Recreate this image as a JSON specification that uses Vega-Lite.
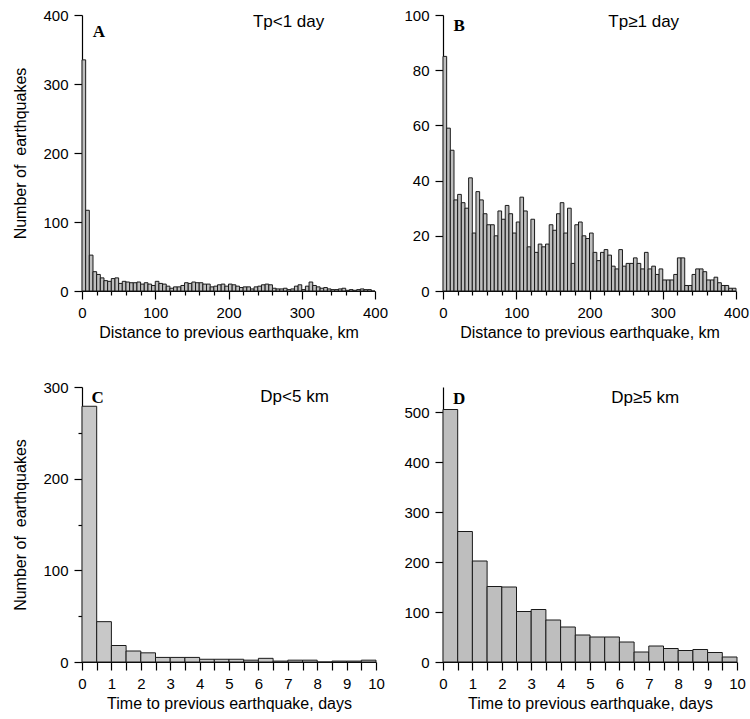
{
  "$schema": "https://vega.github.io/schema/vega-lite/v6.json",
  "background": "white",
  "padding": {"left": 12, "top": 8, "right": 5, "bottom": 5},
  "datasets": {
    "A": [
      {"start":0,"end":5,"count":335},{"start":5,"end":10,"count":117},{"start":10,"end":15,"count":52},{"start":15,"end":20,"count":28},
      {"start":20,"end":25,"count":24},{"start":25,"end":30,"count":19},{"start":30,"end":35,"count":15},{"start":35,"end":40,"count":14},
      {"start":40,"end":45,"count":18},{"start":45,"end":50,"count":19},{"start":50,"end":55,"count":11},{"start":55,"end":60,"count":14},
      {"start":60,"end":65,"count":13},{"start":65,"end":70,"count":12},{"start":70,"end":75,"count":12},{"start":75,"end":80,"count":13},
      {"start":80,"end":85,"count":10},{"start":85,"end":90,"count":12},{"start":90,"end":95,"count":10},{"start":95,"end":100,"count":8},
      {"start":100,"end":105,"count":14},{"start":105,"end":110,"count":11},{"start":110,"end":115,"count":10},{"start":115,"end":120,"count":7},
      {"start":120,"end":125,"count":4},{"start":125,"end":130,"count":6},{"start":130,"end":135,"count":6},{"start":135,"end":140,"count":8},
      {"start":140,"end":145,"count":12},{"start":145,"end":150,"count":11},{"start":150,"end":155,"count":13},{"start":155,"end":160,"count":12},
      {"start":160,"end":165,"count":12},{"start":165,"end":170,"count":10},{"start":170,"end":175,"count":10},{"start":175,"end":180,"count":6},
      {"start":180,"end":185,"count":7},{"start":185,"end":190,"count":9},{"start":190,"end":195,"count":10},{"start":195,"end":200,"count":7},
      {"start":200,"end":205,"count":10},{"start":205,"end":210,"count":9},{"start":210,"end":215,"count":7},{"start":215,"end":220,"count":5},
      {"start":220,"end":225,"count":6},{"start":225,"end":230,"count":6},{"start":230,"end":235,"count":3},{"start":235,"end":240,"count":6},
      {"start":240,"end":245,"count":7},{"start":245,"end":250,"count":9},{"start":250,"end":255,"count":10},{"start":255,"end":260,"count":9},
      {"start":260,"end":265,"count":4},{"start":265,"end":270,"count":3},{"start":270,"end":275,"count":3},{"start":275,"end":280,"count":4},
      {"start":280,"end":285,"count":2},{"start":285,"end":290,"count":3},{"start":290,"end":295,"count":7},{"start":295,"end":300,"count":9},
      {"start":300,"end":305,"count":2},{"start":305,"end":310,"count":7},{"start":310,"end":315,"count":13},{"start":315,"end":320,"count":8},
      {"start":320,"end":325,"count":6},{"start":325,"end":330,"count":4},{"start":330,"end":335,"count":5},{"start":335,"end":340,"count":3},
      {"start":340,"end":345,"count":2},{"start":345,"end":350,"count":2},{"start":350,"end":355,"count":3},{"start":355,"end":360,"count":4},
      {"start":360,"end":365,"count":1},{"start":365,"end":370,"count":2},{"start":370,"end":375,"count":1},{"start":375,"end":380,"count":2},
      {"start":380,"end":385,"count":3},{"start":385,"end":390,"count":2},{"start":390,"end":395,"count":2},{"start":395,"end":400,"count":0}
    ],
    "B": [
      {"start":0,"end":5,"count":85},{"start":5,"end":10,"count":59},{"start":10,"end":15,"count":51},{"start":15,"end":20,"count":33},
      {"start":20,"end":25,"count":35},{"start":25,"end":30,"count":32},{"start":30,"end":35,"count":30},{"start":35,"end":40,"count":41},
      {"start":40,"end":45,"count":21},{"start":45,"end":50,"count":36},{"start":50,"end":55,"count":33},{"start":55,"end":60,"count":28},
      {"start":60,"end":65,"count":24},{"start":65,"end":70,"count":24},{"start":70,"end":75,"count":20},{"start":75,"end":80,"count":29},
      {"start":80,"end":85,"count":26},{"start":85,"end":90,"count":31},{"start":90,"end":95,"count":28},{"start":95,"end":100,"count":21},
      {"start":100,"end":105,"count":25},{"start":105,"end":110,"count":34},{"start":110,"end":115,"count":29},{"start":115,"end":120,"count":16},
      {"start":120,"end":125,"count":26},{"start":125,"end":130,"count":14},{"start":130,"end":135,"count":17},{"start":135,"end":140,"count":16},
      {"start":140,"end":145,"count":17},{"start":145,"end":150,"count":24},{"start":150,"end":155,"count":22},{"start":155,"end":160,"count":28},
      {"start":160,"end":165,"count":32},{"start":165,"end":170,"count":21},{"start":170,"end":175,"count":30},{"start":175,"end":180,"count":10},
      {"start":180,"end":185,"count":24},{"start":185,"end":190,"count":25},{"start":190,"end":195,"count":20},{"start":195,"end":200,"count":19},
      {"start":200,"end":205,"count":21},{"start":205,"end":210,"count":14},{"start":210,"end":215,"count":11},{"start":215,"end":220,"count":14},
      {"start":220,"end":225,"count":15},{"start":225,"end":230,"count":13},{"start":230,"end":235,"count":9},{"start":235,"end":240,"count":8},
      {"start":240,"end":245,"count":15},{"start":245,"end":250,"count":9},{"start":250,"end":255,"count":10},{"start":255,"end":260,"count":10},
      {"start":260,"end":265,"count":12},{"start":265,"end":270,"count":10},{"start":270,"end":275,"count":8},{"start":275,"end":280,"count":14},
      {"start":280,"end":285,"count":8},{"start":285,"end":290,"count":9},{"start":290,"end":295,"count":6},{"start":295,"end":300,"count":8},
      {"start":300,"end":305,"count":4},{"start":305,"end":310,"count":4},{"start":310,"end":315,"count":4},{"start":315,"end":320,"count":6},
      {"start":320,"end":325,"count":12},{"start":325,"end":330,"count":12},{"start":330,"end":335,"count":2},{"start":335,"end":340,"count":2},
      {"start":340,"end":345,"count":6},{"start":345,"end":350,"count":8},{"start":350,"end":355,"count":8},{"start":355,"end":360,"count":7},
      {"start":360,"end":365,"count":4},{"start":365,"end":370,"count":4},{"start":370,"end":375,"count":5},{"start":375,"end":380,"count":3},
      {"start":380,"end":385,"count":2},{"start":385,"end":390,"count":2},{"start":390,"end":395,"count":1},{"start":395,"end":400,"count":1}
    ],
    "C": [
      {"start":0,"end":0.5,"count":279},{"start":0.5,"end":1,"count":44},{"start":1,"end":1.5,"count":18},{"start":1.5,"end":2,"count":12},
      {"start":2,"end":2.5,"count":10},{"start":2.5,"end":3,"count":5},{"start":3,"end":3.5,"count":5},{"start":3.5,"end":4,"count":5},
      {"start":4,"end":4.5,"count":3},{"start":4.5,"end":5,"count":3},{"start":5,"end":5.5,"count":3},{"start":5.5,"end":6,"count":2},
      {"start":6,"end":6.5,"count":4},{"start":6.5,"end":7,"count":1},{"start":7,"end":7.5,"count":2},{"start":7.5,"end":8,"count":2},
      {"start":8,"end":8.5,"count":0},{"start":8.5,"end":9,"count":1},{"start":9,"end":9.5,"count":1},{"start":9.5,"end":10,"count":2}
    ],
    "D": [
      {"start":0,"end":0.5,"count":505},{"start":0.5,"end":1,"count":261},{"start":1,"end":1.5,"count":202},{"start":1.5,"end":2,"count":151},
      {"start":2,"end":2.5,"count":150},{"start":2.5,"end":3,"count":101},{"start":3,"end":3.5,"count":105},{"start":3.5,"end":4,"count":84},
      {"start":4,"end":4.5,"count":70},{"start":4.5,"end":5,"count":54},{"start":5,"end":5.5,"count":50},{"start":5.5,"end":6,"count":50},
      {"start":6,"end":6.5,"count":40},{"start":6.5,"end":7,"count":20},{"start":7,"end":7.5,"count":32},{"start":7.5,"end":8,"count":27},
      {"start":8,"end":8.5,"count":23},{"start":8.5,"end":9,"count":25},{"start":9,"end":9.5,"count":19},{"start":9.5,"end":10,"count":10}
    ]
  },
  "columns": 2,
  "spacing": {"row": 96, "column": 67},
  "bounds": "flush",
  "concat": [
    {
      "width": 293, "height": 276,
      "resolve": {"axis": {"x": "independent"}},
      "layer": [
        {
          "data": {"name": "A"},
          "mark": {"type": "rect", "fill": "#bebebe", "stroke": "#1a1a1a", "strokeWidth": 1},
          "encoding": {
            "x": {"field": "start", "type": "quantitative", "scale": {"domain": [0, 400], "nice": false},
              "axis": {"orient": "bottom", "title": "Distance to previous earthquake, km", "values": [0,100,200,300,400], "tickSize": 8, "titlePadding": 4}},
            "x2": {"field": "end"},
            "y": {"field": "count", "type": "quantitative", "scale": {"domain": [0, 400], "nice": false},
              "axis": {"title": "Number of\u00a0\u00a0earthquakes", "values": [0,50,100,150,200,250,300,350,400],
                "labelExpr": "datum.value % 100 === 0 ? datum.label : ''", "labelOverlap": false, "titlePadding": 14,
                "tickSize": {"condition": {"test": "datum.value % 100 === 0", "value": 8}, "value": 4}}}
          }
        },
        {
          "data": {"values": [{}]},
          "mark": {"type": "text", "font": "Liberation Serif", "fontWeight": "bold", "fontSize": 17, "baseline": "middle"},
          "encoding": {
            "x": {"datum": 23, "type": "quantitative", "axis": {"orient": "bottom", "values": [20,40,60,80,120,140,160,180,220,240,260,280,320,340,360,380], "labels": false, "title": null, "domain": false, "tickSize": 4}},
            "y": {"datum": 376, "type": "quantitative"},
            "text": {"value": "A"}}
        },
        {
          "data": {"values": [{}]},
          "mark": {"type": "text", "font": "Liberation Sans", "fontSize": 17, "baseline": "middle"},
          "encoding": {"x": {"datum": 282, "type": "quantitative", "axis": null}, "y": {"datum": 390, "type": "quantitative"}, "text": {"value": "Tp<1 day"}}
        }
      ]
    },
    {
      "width": 293, "height": 276,
      "resolve": {"axis": {"x": "independent"}},
      "layer": [
        {
          "data": {"name": "B"},
          "mark": {"type": "rect", "fill": "#bebebe", "stroke": "#1a1a1a", "strokeWidth": 1},
          "encoding": {
            "x": {"field": "start", "type": "quantitative", "scale": {"domain": [0, 400], "nice": false},
              "axis": {"orient": "bottom", "title": "Distance to previous earthquake, km", "values": [0,100,200,300,400], "tickSize": 8, "titlePadding": 4}},
            "x2": {"field": "end"},
            "y": {"field": "count", "type": "quantitative", "scale": {"domain": [0, 100], "nice": false},
              "axis": {"title": null, "values": [0,10,20,30,40,50,60,70,80,90,100],
                "labelExpr": "datum.value % 20 === 0 ? datum.label : ''", "labelOverlap": false,
                "tickSize": {"condition": {"test": "datum.value % 20 === 0", "value": 8}, "value": 4}}}
          }
        },
        {
          "data": {"values": [{}]},
          "mark": {"type": "text", "font": "Liberation Serif", "fontWeight": "bold", "fontSize": 17, "baseline": "middle"},
          "encoding": {
            "x": {"datum": 22, "type": "quantitative", "axis": {"orient": "bottom", "values": [20,40,60,80,120,140,160,180,220,240,260,280,320,340,360,380], "labels": false, "title": null, "domain": false, "tickSize": 4}},
            "y": {"datum": 96, "type": "quantitative"},
            "text": {"value": "B"}}
        },
        {
          "data": {"values": [{}]},
          "mark": {"type": "text", "font": "Liberation Sans", "fontSize": 17, "baseline": "middle"},
          "encoding": {"x": {"datum": 274, "type": "quantitative", "axis": null}, "y": {"datum": 97.5, "type": "quantitative"}, "text": {"value": "Tp≥1 day"}}
        }
      ]
    },
    {
      "width": 294, "height": 275,
      "resolve": {"axis": {"x": "independent"}},
      "layer": [
        {
          "data": {"name": "C"},
          "mark": {"type": "rect", "fill": "#c8c8c8", "stroke": "#1a1a1a", "strokeWidth": 1},
          "encoding": {
            "x": {"field": "start", "type": "quantitative", "scale": {"domain": [0, 10], "nice": false},
              "axis": {"orient": "bottom", "title": "Time to previous earthquake, days", "values": [0,1,2,3,4,5,6,7,8,9,10], "tickSize": 8, "titlePadding": 4}},
            "x2": {"field": "end"},
            "y": {"field": "count", "type": "quantitative", "scale": {"domain": [0, 300], "nice": false},
              "axis": {"title": "Number of\u00a0\u00a0earthquakes", "values": [0,50,100,150,200,250,300],
                "labelExpr": "datum.value % 100 === 0 ? datum.label : ''", "labelOverlap": false, "titlePadding": 14,
                "tickSize": {"condition": {"test": "datum.value % 100 === 0", "value": 8}, "value": 4}}}
          }
        },
        {
          "data": {"values": [{}]},
          "mark": {"type": "text", "font": "Liberation Serif", "fontWeight": "bold", "fontSize": 17, "baseline": "middle"},
          "encoding": {
            "x": {"datum": 0.53, "type": "quantitative", "axis": {"orient": "bottom", "values": [0.5,1.5,2.5,3.5,4.5,5.5,6.5,7.5,8.5,9.5], "labels": false, "title": null, "domain": false, "tickSize": 8}},
            "y": {"datum": 288, "type": "quantitative"},
            "text": {"value": "C"}}
        },
        {
          "data": {"values": [{}]},
          "mark": {"type": "text", "font": "Liberation Sans", "fontSize": 17, "baseline": "middle"},
          "encoding": {"x": {"datum": 7.23, "type": "quantitative", "axis": null}, "y": {"datum": 289, "type": "quantitative"}, "text": {"value": "Dp<5 km"}}
        }
      ]
    },
    {
      "width": 294, "height": 275,
      "resolve": {"axis": {"x": "independent"}},
      "layer": [
        {
          "data": {"name": "D"},
          "mark": {"type": "rect", "fill": "#bebebe", "stroke": "#1a1a1a", "strokeWidth": 1},
          "encoding": {
            "x": {"field": "start", "type": "quantitative", "scale": {"domain": [0, 10], "nice": false},
              "axis": {"orient": "bottom", "title": "Time to previous earthquake, days", "values": [0,1,2,3,4,5,6,7,8,9,10], "tickSize": 8, "titlePadding": 4}},
            "x2": {"field": "end"},
            "y": {"field": "count", "type": "quantitative", "scale": {"domain": [0, 550], "nice": false},
              "axis": {"title": null, "values": [0,50,100,150,200,250,300,350,400,450,500,550],
                "labelExpr": "datum.value % 100 === 0 ? datum.label : ''", "labelOverlap": false,
                "tickSize": {"condition": {"test": "datum.value % 100 === 0", "value": 8}, "value": 4}}}
          }
        },
        {
          "data": {"values": [{}]},
          "mark": {"type": "text", "font": "Liberation Serif", "fontWeight": "bold", "fontSize": 17, "baseline": "middle"},
          "encoding": {
            "x": {"datum": 0.55, "type": "quantitative", "axis": {"orient": "bottom", "values": [0.5,1.5,2.5,3.5,4.5,5.5,6.5,7.5,8.5,9.5], "labels": false, "title": null, "domain": false, "tickSize": 8}},
            "y": {"datum": 526, "type": "quantitative"},
            "text": {"value": "D"}}
        },
        {
          "data": {"values": [{}]},
          "mark": {"type": "text", "font": "Liberation Sans", "fontSize": 17, "baseline": "middle"},
          "encoding": {"x": {"datum": 6.88, "type": "quantitative", "axis": null}, "y": {"datum": 529, "type": "quantitative"}, "text": {"value": "Dp≥5 km"}}
        }
      ]
    }
  ],
  "config": {
    "view": {"stroke": null},
    "axis": {
      "grid": false,
      "domainColor": "black", "domainWidth": 1.2,
      "tickColor": "black", "tickWidth": 1.2,
      "labelColor": "black", "labelFont": "Liberation Sans", "labelFontSize": 15, "labelFlush": false,
      "titleColor": "black", "titleFont": "Liberation Sans", "titleFontSize": 16, "titleFontWeight": "normal",
      "labelPadding": 6
    }
  }
}
